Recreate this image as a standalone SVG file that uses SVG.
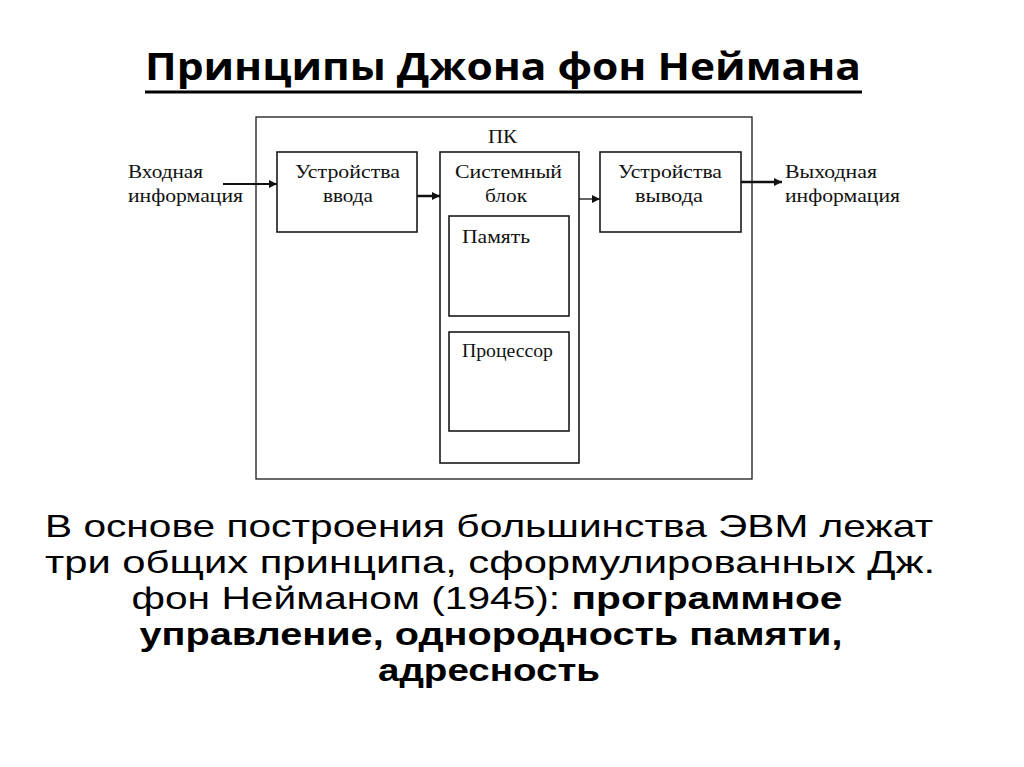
<svg xmlns="http://www.w3.org/2000/svg" width="1024" height="767" viewBox="0 0 1024 767">
<defs>
<style>
.box{fill:#fff;stroke:#1a1a1a;stroke-width:1.6}
.outer{fill:#fff;stroke:#1a1a1a;stroke-width:1.3}
.lbl{font-family:"Liberation Serif","DejaVu Serif",serif;font-size:18px;fill:#111}
.conn{stroke:#111;fill:none}
.title{font-family:"Open Sans","Liberation Sans",sans-serif;font-weight:bold;font-size:38px;fill:#000}
.body{font-family:"Liberation Sans","Open Sans",sans-serif;font-size:32px;fill:#000}
.b{font-weight:bold}
</style>
<marker id="ah" viewBox="0 0 10 10" refX="10" refY="5" markerWidth="8" markerHeight="8" markerUnits="userSpaceOnUse" orient="auto">
<path d="M0,0 L10,5 L0,10 z" fill="#111"/>
</marker>
</defs>
<rect width="1024" height="767" fill="#fff"/>

<g id="title">
<text class="title" x="503" y="80" text-anchor="middle" textLength="716" lengthAdjust="spacingAndGlyphs">Принципы Джона фон Неймана</text>
<line x1="145" y1="92" x2="862" y2="92" stroke="#000" stroke-width="3"/>
</g>

<g id="pc">
<rect class="outer" x="256" y="117" width="496" height="362"/>
<text class="lbl" x="488" y="143" textLength="29" lengthAdjust="spacingAndGlyphs">ПК</text>
</g>

<g id="input-label">
<text class="lbl" x="128" y="178" textLength="75" lengthAdjust="spacingAndGlyphs">Входная</text>
<text class="lbl" x="128" y="202" textLength="115" lengthAdjust="spacingAndGlyphs">информация</text>
</g>

<g id="input-device">
<rect class="box" x="277" y="152" width="140" height="80"/>
<text class="lbl" x="295" y="178" textLength="105" lengthAdjust="spacingAndGlyphs">Устройства</text>
<text class="lbl" x="323" y="202" textLength="50" lengthAdjust="spacingAndGlyphs">ввода</text>
</g>

<g id="system-block">
<rect class="box" x="440" y="152" width="139" height="311"/>
<text class="lbl" x="455" y="178" textLength="107" lengthAdjust="spacingAndGlyphs">Системный</text>
<text class="lbl" x="485" y="202" textLength="42" lengthAdjust="spacingAndGlyphs">блок</text>
</g>

<g id="memory">
<rect class="box" x="449" y="216" width="120" height="100"/>
<text class="lbl" x="462" y="243" textLength="68" lengthAdjust="spacingAndGlyphs">Память</text>
</g>

<g id="processor">
<rect class="box" x="449" y="332" width="120" height="99"/>
<text class="lbl" x="462" y="357" textLength="91" lengthAdjust="spacingAndGlyphs">Процессор</text>
</g>

<g id="output-device">
<rect class="box" x="600" y="152" width="141" height="80"/>
<text class="lbl" x="618" y="178" textLength="104" lengthAdjust="spacingAndGlyphs">Устройства</text>
<text class="lbl" x="635" y="202" textLength="68" lengthAdjust="spacingAndGlyphs">вывода</text>
</g>

<g id="output-label">
<text class="lbl" x="785" y="178" textLength="92" lengthAdjust="spacingAndGlyphs">Выходная</text>
<text class="lbl" x="785" y="202" textLength="115" lengthAdjust="spacingAndGlyphs">информация</text>
</g>

<g id="connectors">
<line class="conn" x1="223" y1="184" x2="277" y2="184" stroke-width="2" marker-end="url(#ah)"/>
<line class="conn" x1="417" y1="196" x2="440" y2="196" stroke-width="2.5" marker-end="url(#ah)"/>
<line class="conn" x1="579" y1="199" x2="600" y2="199" stroke-width="1.3" marker-end="url(#ah)"/>
<line class="conn" x1="741" y1="182" x2="782" y2="182" stroke-width="2.5" marker-end="url(#ah)"/>
</g>

<g id="body-text">
<text class="body" x="489" y="537" text-anchor="middle" textLength="888" lengthAdjust="spacingAndGlyphs">В основе построения большинства ЭВМ лежат</text>
<text class="body" x="490" y="573" text-anchor="middle" textLength="890" lengthAdjust="spacingAndGlyphs">три общих принципа, сформулированных Дж.</text>
<text class="body" x="487" y="609" text-anchor="middle" textLength="711" lengthAdjust="spacingAndGlyphs">фон Нейманом (1945): <tspan class="b">программное</tspan></text>
<text class="body b" x="491" y="645" text-anchor="middle" textLength="703" lengthAdjust="spacingAndGlyphs">управление, однородность памяти,</text>
<text class="body b" x="489" y="681" text-anchor="middle" textLength="222" lengthAdjust="spacingAndGlyphs">адресность</text>
</g>
</svg>
